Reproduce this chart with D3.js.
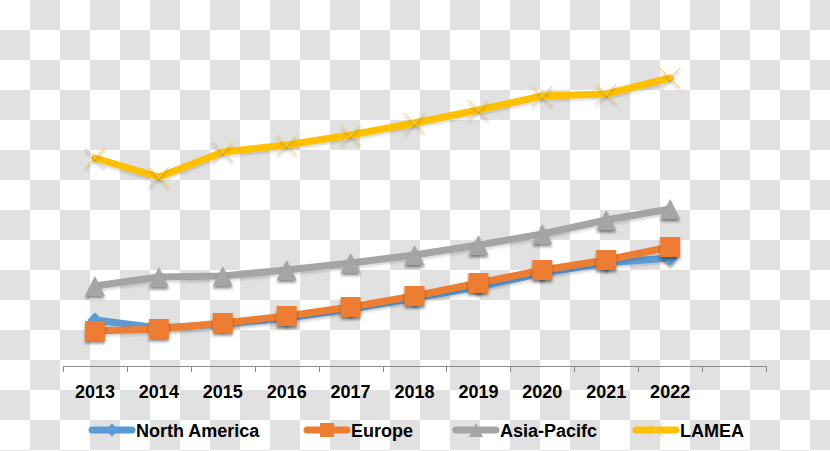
<!DOCTYPE html>
<html><head><meta charset="utf-8">
<script src="https://cdn.jsdelivr.net/npm/d3@7"></script>
<style>html,body{margin:0;padding:0;background:#fff;}svg{display:block;}</style>
</head><body>
<svg id="chart" width="830" height="451"></svg>
<script>
const categories = ["2013","2014","2015","2016","2017","2018","2019","2020","2021","2022",""];
const years = ["2013","2014","2015","2016","2017","2018","2019","2020","2021","2022"];
const northAmerica = [4.6, 3.8, 4.2, 4.8, 5.7, 6.8, 7.9, 9.3, 10.3, 10.8];
const europe       = [3.5, 3.7, 4.3, 5.0, 5.9, 7.0, 8.3, 9.6, 10.6, 11.9];
const asiaPacific  = [8.0, 8.9, 9.0, 9.6, 10.3, 11.1, 12.1, 13.2, 14.6, 15.7];
const lamea        = [20.8, 18.9, 21.4, 22.1, 23.1, 24.3, 25.6, 27.0, 27.2, 28.8];
const seriesNames  = ["North America", "Europe", "Asia-Pacifc", "LAMEA"];
const seriesColors = ["#5B9BD5", "#ED7D31", "#A5A5A5", "#FFC000"];
const seriesMarkers = ["diamond", "square", "triangle", "cross"];

const W = 830, H = 451;
const svg = d3.select("#chart");
const defs = svg.append("defs");

// checkerboard background
const pat = defs.append("pattern").attr("id","checker").attr("patternUnits","userSpaceOnUse")
  .attr("width",60).attr("height",60);
pat.append("rect").attr("width",60).attr("height",60).attr("fill","#ffffff");
pat.append("rect").attr("x",30).attr("y",0).attr("width",30).attr("height",30).attr("fill","#e1e1e1");
pat.append("rect").attr("x",0).attr("y",30).attr("width",30).attr("height",30).attr("fill","#e1e1e1");
svg.append("rect").attr("width",W).attr("height",H).attr("fill","url(#checker)");

const f = defs.append("filter").attr("id","shadow").attr("x","-50%").attr("y","-50%").attr("width","200%").attr("height","200%");
f.append("feDropShadow").attr("dx",0).attr("dy",2.5).attr("stdDeviation",1.8).attr("flood-color","#000").attr("flood-opacity",0.45);
const f2 = defs.append("filter").attr("id","lshadow").attr("x","-10%").attr("y","-50%").attr("width","120%").attr("height","200%");
f2.append("feDropShadow").attr("dx",0).attr("dy",2).attr("stdDeviation",1.5).attr("flood-color","#000").attr("flood-opacity",0.18);

const x = d3.scaleBand().domain(categories).range([63, 766]).padding(0);
const y = d3.scaleLinear().domain([0, 35]).range([366, 16]);

// axis
const axis = d3.axisBottom(x).tickSize(0).tickPadding(0);
const gx = svg.append("g").attr("transform","translate(0,366)").call(axis);
gx.select(".domain").attr("stroke","#8a8a8a").attr("stroke-width",1).attr("d","M63,0.5H766");
gx.selectAll(".tick text").attr("dy",null).attr("y",32)
  .style("font-family","'Liberation Sans', Arial, sans-serif").style("font-weight","bold")
  .style("font-size","18px").attr("fill","#000");
// boundary ticks
const bounds = categories.map(c => x(c)).concat([x.range()[1]]);
gx.selectAll("line.bt").data(bounds).enter().append("line").attr("class","bt")
  .attr("x1",d=>Math.round(d)+0.5).attr("x2",d=>Math.round(d)+0.5).attr("y1",0).attr("y2",6)
  .attr("stroke","#8a8a8a").attr("stroke-width",1);

function markerPath(type, s) {
  const h = s/2;
  if (type === "diamond") return `M0,${-h}L${h},0L0,${h}L${-h},0Z`;
  if (type === "square") return `M${-h},${-h}H${h}V${h}H${-h}Z`;
  if (type === "triangle") return `M0,${-h}L${h},${h}L${-h},${h}Z`;
  return `M${-h},${-h}L${h},${h}M${h},${-h}L${-h},${h}`;
}
const markerSize = {diamond:15, square:20, triangle:20, cross:20};

const data = [northAmerica, europe, asiaPacific, lamea];
const line = d3.line().x((d,i)=>x(years[i]) + x.bandwidth()/2).y(d=>y(d));

data.forEach((vals, si) => {
  const g = svg.append("g");
  const col = seriesColors[si];
  g.append("path").attr("d", line(vals)).attr("fill","none").attr("stroke",col)
    .attr("stroke-width",7).attr("stroke-linejoin","round").attr("stroke-linecap","round")
    .attr("filter","url(#lshadow)");
  const type = seriesMarkers[si];
  g.selectAll("path.m").data(vals).enter().append("path").attr("class","m")
    .attr("transform",(d,i)=>`translate(${x(years[i]) + x.bandwidth()/2},${y(d)})`)
    .attr("d", markerPath(type, markerSize[type]))
    .attr("fill", type==="cross" ? "none" : col)
    .attr("stroke", type==="cross" ? "#F2C955" : "none")
    .attr("stroke-width", type==="cross" ? 1 : 0)
    .attr("filter","url(#shadow)");
});

// legend
const legendX = [89, 304, 453, 633];
const leg = svg.append("g");
seriesNames.forEach((name, si) => {
  const x0 = legendX[si], yy = 430, col = seriesColors[si];
  leg.append("line").attr("x1",x0+3).attr("x2",x0+43).attr("y1",yy).attr("y2",yy)
    .attr("stroke",col).attr("stroke-width",7).attr("stroke-linecap","round");
  const type = seriesMarkers[si];
  leg.append("path").attr("transform",`translate(${x0+23},${yy})`)
    .attr("d", markerPath(type, type==="diamond"?13:14))
    .attr("fill", type==="cross" ? "none" : col)
    .attr("stroke", type==="cross" ? "#F2C955" : "none").attr("stroke-width",1);
  leg.append("text").attr("x", x0+47).attr("y", yy+6.5).text(name)
    .style("font-family","'Liberation Sans', Arial, sans-serif").style("font-weight","bold")
    .style("font-size","18px").attr("fill","#000");
});
</script>
</body></html>
